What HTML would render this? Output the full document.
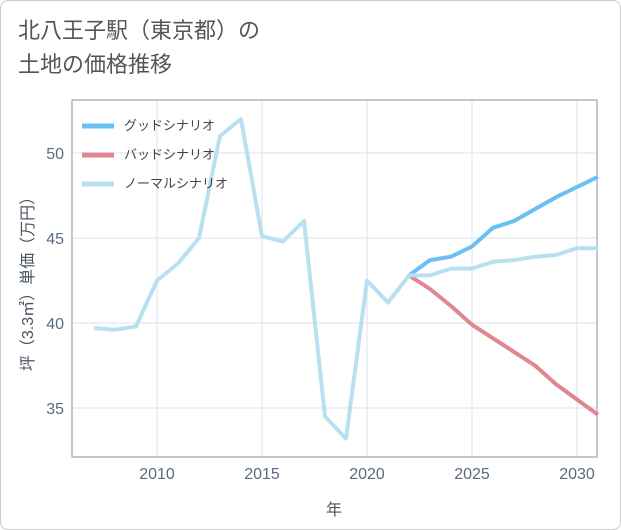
<!DOCTYPE html>
<html><head><meta charset="utf-8">
<style>
body{margin:0;background:#fff;}
#wrap{position:relative;width:621px;height:530px;font-family:"Liberation Sans","Noto Sans CJK JP",sans-serif;}
#frame{position:absolute;left:0;top:0;width:619px;height:528px;border:1px solid #ccc;border-radius:8px;}
#title{position:absolute;left:18px;top:14px;font-size:22px;line-height:34px;color:#555;}
</style></head><body>
<div id="wrap">
<div id="frame"></div>
<div id="title">北八王子駅（東京都）の<br>土地の価格推移</div>
<svg id="chart" width="621" height="530" style="position:absolute;left:0;top:0"></svg>
</div>
<script>
const years=[2007,2008,2009,2010,2011,2012,2013,2014,2015,2016,2017,2018,2019,2020,2021,2022,2023,2024,2025,2026,2027,2028,2029,2030,2031];
const normalVals=[39.7,39.6,39.8,42.5,43.5,45.0,51.0,52.0,45.1,44.8,46.0,34.5,33.2,42.5,41.2,42.8,42.8,43.2,43.2,43.6,43.7,43.9,44.0,44.4,44.4];
const futureYears=[2022,2023,2024,2025,2026,2027,2028,2029,2030,2031];
const goodVals=[42.8,43.7,43.9,44.5,45.6,46.0,46.7,47.4,48.0,48.6];
const badVals=[42.8,42.0,41.0,39.9,39.1,38.3,37.5,36.4,35.5,34.6];
const xTicks=[2010,2015,2020,2025,2030];
const yTicks=[35,40,45,50];
const legendLabels=["グッドシナリオ","バッドシナリオ","ノーマルシナリオ"];
const colors=["#6bbff5","#e0868f","#b9e0f0"];

const L=72,R=597,T=100,B=457;
const xs=y=>157+(y-2010)*21;
const ys=v=>323-(v-40)*17;
const svg=document.getElementById('chart');
const NS='http://www.w3.org/2000/svg';
function mk(t,a){const e=document.createElementNS(NS,t);for(const k in a)e.setAttribute(k,a[k]);svg.appendChild(e);return e;}

for(const t of xTicks){const l=mk('line',{x1:xs(t),x2:xs(t),y1:T,y2:B,stroke:'#dde3ea','stroke-width':1});

const tx=mk('text',{x:xs(t),y:479,'text-anchor':'middle','font-size':16,fill:'#5a6b7d'});tx.textContent=t;
}
for(const t of yTicks){const l=mk('line',{x1:L,x2:R,y1:ys(t),y2:ys(t),stroke:'#dde3ea','stroke-width':1});

const tx=mk('text',{x:64,y:ys(t)+6,'text-anchor':'end','font-size':16,fill:'#5a6b7d'});tx.textContent=t;
}
const ax=mk('rect',{x:L,y:T,width:R-L,height:B-T,fill:'none',stroke:'#8a929a','stroke-width':1});


function line(xv,yv,c,name){const p=mk('polyline',{points:xv.map((x,i)=>xs(x)+','+ys(yv[i])).join(' '),fill:'none',stroke:c,'stroke-width':4,'stroke-linejoin':'round'});
}
line(futureYears,goodVals,colors[0],'good-scenario-line');
line(futureYears,badVals,colors[1],'bad-scenario-line');
line(years,normalVals,colors[2],'normal-scenario-line');

legendLabels.forEach((s,i)=>{const y=126+i*29;
const l=mk('line',{x1:82,x2:114,y1:y,y2:y,stroke:colors[i],'stroke-width':5});

const t=mk('text',{x:124,y:y+4,'font-size':13,fill:'#444'});t.textContent=s;
});

const xt=mk('text',{x:334,y:515,'text-anchor':'middle','font-size':16,fill:'#4a5560'});xt.textContent='年';

const yt=mk('text',{x:0,y:0,'text-anchor':'middle','font-size':16,fill:'#4a5560',transform:'translate(33,280) rotate(-90)'});yt.textContent='坪（3.3㎡）単価（万円）';

</script>
</body></html>
